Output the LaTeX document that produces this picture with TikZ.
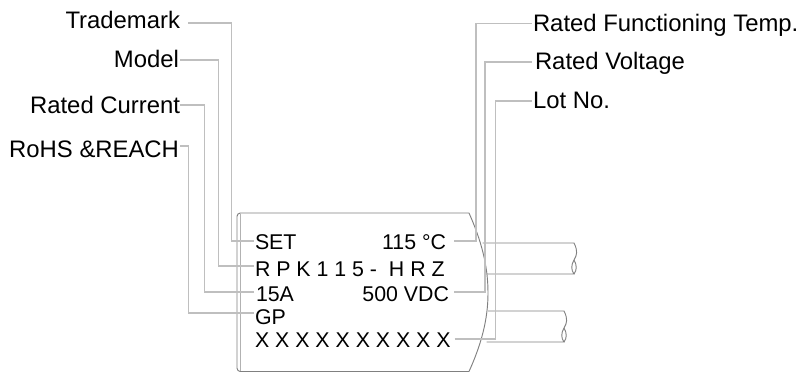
\documentclass[tikz,border=0pt]{standalone}
\usepackage{fontspec}
\setmainfont{Liberation Sans}
\tikzset{
  lbl/.style={inner sep=0pt,outer sep=0pt,font=\fontsize{17.9pt}{20pt}\selectfont,text=black},
  small/.style={inner sep=0pt,outer sep=0pt,font=\fontsize{16pt}{20pt}\selectfont,text=black},
  lead/.style={draw=black!25,line width=1.1pt,line join=miter},
  body/.style={draw=black!50,line width=0.7pt}
}
\begin{document}
\begin{tikzpicture}[x=0.75pt,y=-0.75pt]
\useasboundingbox (0,0) rectangle (802,372);
% labels
\node[lbl,anchor=base east] (tm) at (180,28) {Trademark};
\node[lbl,anchor=base east] (model) at (179,67) {Model};
\node[lbl,anchor=base east] (rc) at (180,113) {Rated Current};
\node[lbl,anchor=base east] (rohs) at (179,157) {RoHS \&REACH};
\node[lbl,anchor=base west] (rft) at (533,31) {Rated Functioning Temp.};
\node[lbl,anchor=base west] (rv) at (535,69) {Rated Voltage};
\node[lbl,anchor=base west] (lot) at (533,108) {Lot No.};
% body text
\node[small,anchor=base west] (set) at (255,249) {SET};
\node[small,anchor=base west] (rpk) at (255,276) {R P K 1 1 5 -\ \ H R Z};
\node[small,anchor=base west] (a15) at (256,301) {15A};
\node[small,anchor=base west] (gp) at (255,324) {GP};
\node[small,anchor=base west] (xs) at (255,347) {X X X X X X X X X X};
\node[small,anchor=base east] (t115) at (446,249) {115 °C};
\node[small,anchor=base east] (v500) at (449,301) {500 VDC};
% outline
\draw[body,rounded corners=2.5] (469,213) -- (237,213) -- (237,371.5) -- (469,371.5);
\draw[body,black!30] (240.5,213.5) -- (240.5,371);
\draw[body] (469,213) .. controls (481,240) and (488,265) .. (488,293) .. controls (488,320) and (481,345) .. (469,371.5);
% wires
\draw[body] (482.5,243) -- (574,243) .. controls (578,251) and (577,255) .. (574,260) .. controls (571,265) and (571,270) .. (574,274) -- (487,274);
\draw[body] (574,260) .. controls (577,265) and (577,270) .. (574,274);
\draw[body] (488,311) -- (564,311) .. controls (568,319) and (567,323) .. (564,328) .. controls (561,333) and (561,338) .. (564,342) -- (486.5,342);
\draw[body] (564,328) .. controls (567,333) and (567,338) .. (564,342);
% leaders
\coordinate (b1) at (231.5,241);
\coordinate (b2) at (218.5,266);
\coordinate (b3) at (204.5,292);
\coordinate (b4) at (188.5,313);
\coordinate (b5) at (476,241);
\coordinate (b6) at (485,292);
\coordinate (b7) at (495.5,339);
\draw[lead] ([shift={(8,-5)}]tm.base east) -| (b1) -- ([shift={(-1,-8)}]set.base west);
\draw[lead] ([shift={(1,-7)}]model.base east) -| (b2) -- ([shift={(-1,-10)}]rpk.base west);
\draw[lead] ([shift={(0,-8)}]rc.base east) -| (b3) -- ([shift={(-2,-9)}]a15.base west);
\draw[lead] ([shift={(1,-11)}]rohs.base east) -| (b4) -- ([shift={(-1,-11)}]gp.base west);
\draw[lead] ([shift={(8,-8)}]t115.base east) -- (b5) |- ([shift={(-1,-7.5)}]rft.base west);
\draw[lead] ([shift={(5,-9)}]v500.base east) -- (b6) |- ([shift={(-3,-7)}]rv.base west);
\draw[lead] ([shift={(4,-8)}]xs.base east) -- (b7) |- ([shift={(-1,-7)}]lot.base west);
\end{tikzpicture}
\end{document}
